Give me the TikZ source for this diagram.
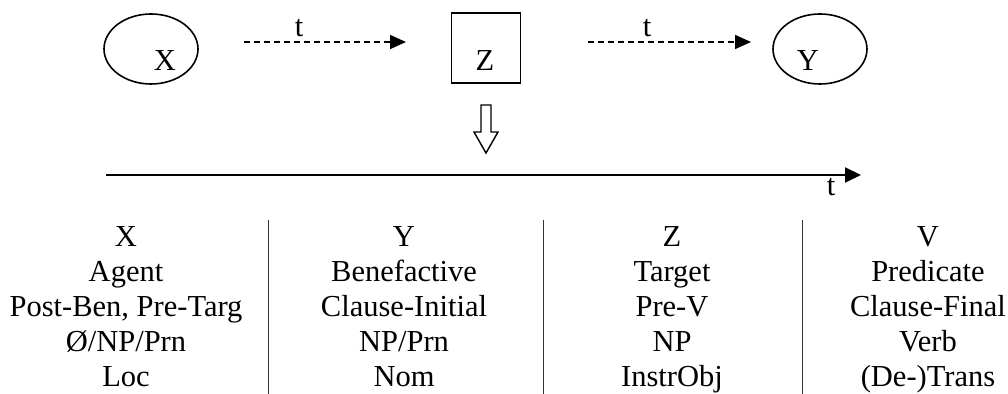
\documentclass[tikz,border=0pt]{standalone}
\usepackage{fontspec}
\setmainfont{Liberation Serif}
\usetikzlibrary{arrows.meta,shapes.geometric}
\begin{document}
\begin{tikzpicture}[x=0.5pt,y=-0.5pt,
  txt/.style={inner sep=0pt,anchor=base,font=\fontsize{15.25pt}{18pt}\selectfont},
  oval/.style={draw,ellipse,line width=0.8pt,minimum width=47pt,minimum height=35pt,inner sep=0pt},
  sq/.style={draw,rectangle,line width=0.8pt,minimum width=34.5pt,minimum height=35pt,inner sep=0pt},
  dasharrow/.style={line width=0.8pt,dash pattern=on 3pt off 2pt,-{Triangle[length=8pt,width=7pt]}},
  timeline/.style={line width=1pt,-{Triangle[length=8pt,width=7.5pt]}},
  divider/.style={line width=0.5pt,draw=black!80}]
\useasboundingbox (0,0) rectangle (1008,394);
% top nodes
\node[oval] (ox) at (151,49) {};
\node[txt] (lx) at (165,71) {X};
\node[sq] (bz) at (486,48) {};
\node[txt] (lz) at (485,71) {Z};
\node[oval] (oy) at (820,49) {};
\node[txt] (ly) at (808,71) {Y};
% dashed arrows
\coordinate (a1s) at (244,42);
\coordinate (a1e) at (406,42);
\coordinate (a2s) at (588,42);
\coordinate (a2e) at (751,42);
\draw[dasharrow] (a1s) -- (a1e);
\draw[dasharrow] (a2s) -- (a2e);
\node[txt] (t1) at (299,37) {t};
\node[txt] (t2) at (647,37) {t};
% down arrow
\draw[line width=0.7pt] (481,105) -- (491,105) -- (491,132) -- (498,132) -- (486,153) -- (474,132) -- (481,132) -- cycle;
% timeline
\coordinate (ts) at (106,175);
\coordinate (te) at (861,175);
\draw[timeline] (ts) -- (te);
\node[txt] (t3) at (831,196) {t};
% dividers
\draw[divider] (268,220) -- (268,394);
\draw[divider] (543,220) -- (543,394);
\draw[divider] (802,220) -- (802,394);
% columns
\node[txt] (c1r1) at (126,247) {X};
\node[txt] (c1r2) at (126,282) {Agent};
\node[txt] (c1r3) at (126,317) {Post-Ben, Pre-Targ};
\node[txt] (c1r4) at (126,352) {Ø/NP/Prn};
\node[txt] (c1r5) at (126,387) {Loc};
\node[txt] (c2r1) at (404,247) {Y};
\node[txt] (c2r2) at (404,282) {Benefactive};
\node[txt] (c2r3) at (404,317) {Clause-Initial};
\node[txt] (c2r4) at (404,352) {NP/Prn};
\node[txt] (c2r5) at (404,387) {Nom};
\node[txt] (c3r1) at (672,247) {Z};
\node[txt] (c3r2) at (672,282) {Target};
\node[txt] (c3r3) at (672,317) {Pre-V};
\node[txt] (c3r4) at (672,352) {NP};
\node[txt] (c3r5) at (672,387) {InstrObj};
\node[txt] (c4r1) at (928,247) {V};
\node[txt] (c4r2) at (928,282) {Predicate};
\node[txt] (c4r3) at (928,317) {Clause-Final};
\node[txt] (c4r4) at (928,352) {Verb};
\node[txt] (c4r5) at (928,387) {(De-)Trans};
\end{tikzpicture}
\end{document}
